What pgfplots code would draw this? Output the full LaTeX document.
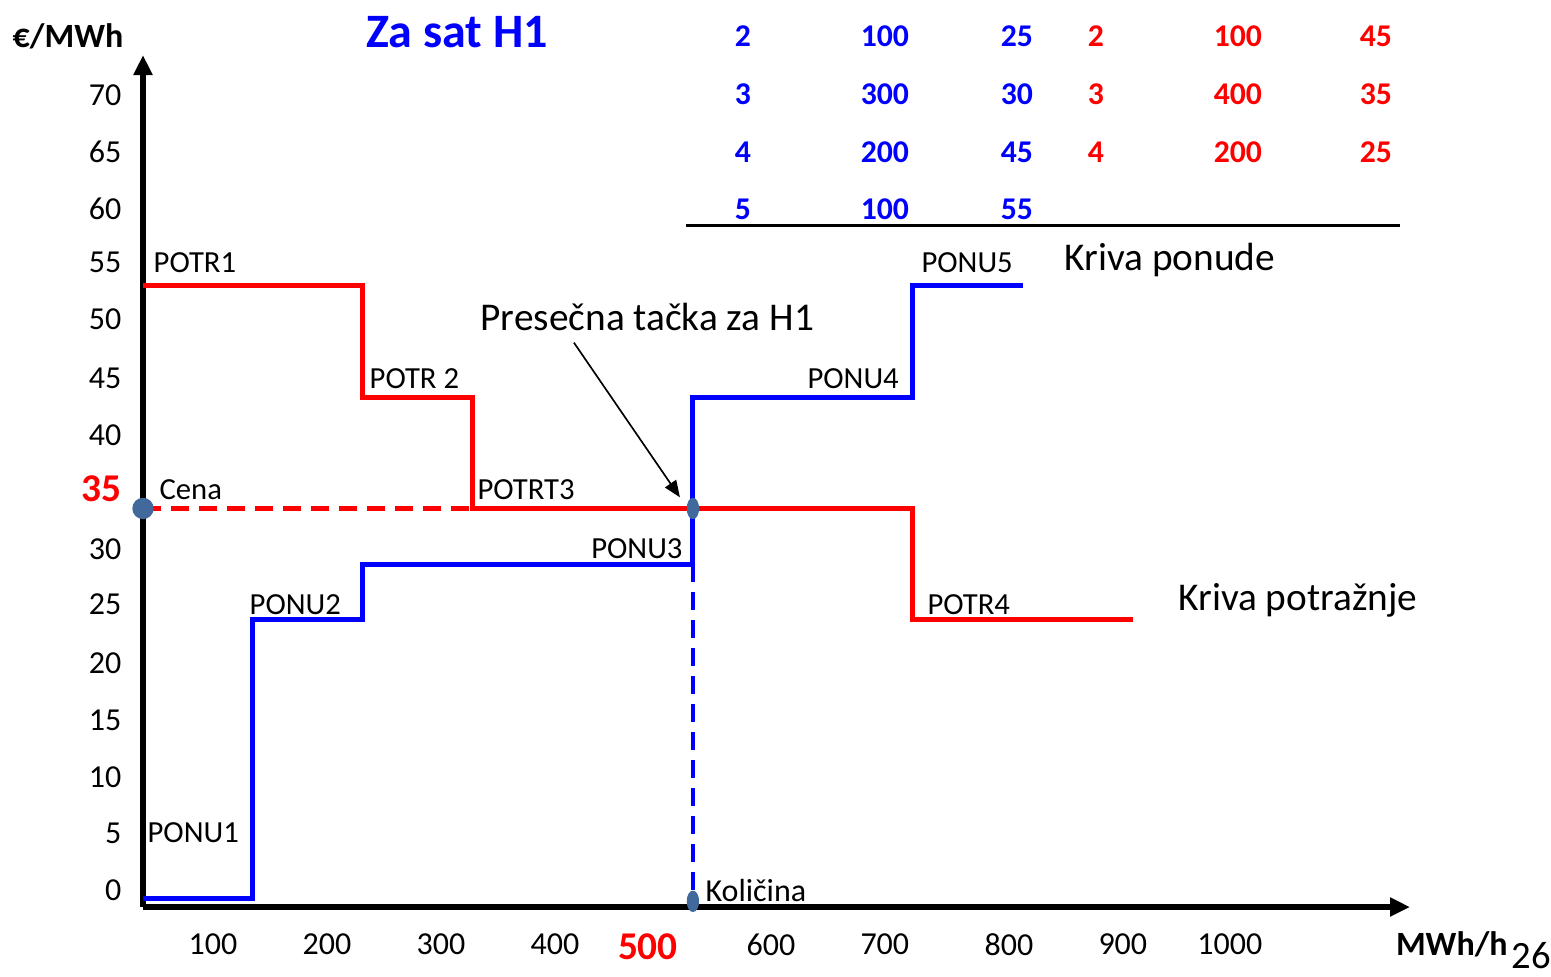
\documentclass[border=0pt]{standalone}
\usepackage{pgfplots}
\pgfplotsset{compat=1.18}
\usepackage{fontspec}
\setmainfont{Carlito}
\usetikzlibrary{arrows.meta}
\definecolor{dotblue}{RGB}{65,105,155}
\newcommand{\fs}[1]{\fontsize{#1}{#1}\selectfont}
\begin{document}
\begin{tikzpicture}[
  lbl/.style={font=\fs{9.2}, anchor=west, inner sep=0pt},
  big/.style={font=\fs{11.8}, anchor=west, inner sep=0pt},
  tb/.style={font=\bfseries\fs{9.5}, inner sep=0pt},
]
\useasboundingbox (-42.9pt,-20.7pt) rectangle (422.4pt,272.1pt);
\begin{axis}[
  at={(0,0)}, anchor=south west,
  scale only axis, width=380.1pt, height=255.6pt,
  xmin=0, xmax=1152, ymin=-0.81, ymax=75.74,
  axis x line=bottom, axis y line=left,
  axis line style={line width=1.6pt, -{Triangle[length=6pt,width=5.4pt]}},
  clip=false,
  major tick length=0pt,
  tick style={draw=none},
  xtick={63.6,167.3,270.9,374.5,459.1,570.9,674.5,787.3,890.9,988.2},
  xticklabels={100,200,300,400,{\raisebox{1.5pt}{\textcolor{red}{\bfseries\fs{11.8}500}}},600,700,800,900,1000},
  ytick={0.72,5.84,10.87,15.99,21.11,26.41,31.36,36.75,41.6,46.7,52.0,57.1,61.9,67.0,72.1},
  yticklabels={0,5,10,15,20,25,30,{\textcolor{red}{\bfseries\fs{11.8}35}},40,45,50,55,60,65,70},
  ticklabel style={font=\fs{9.6}, inner sep=0pt},
  xticklabel style={anchor=north, yshift=-7.8pt},
  yticklabel style={anchor=east, xshift=-6.3pt},
]
% demand curve (Kriva potraznje)
\addplot[const plot, red, line width=1.5pt] coordinates {(0,55) (200,45) (300,35) (700,25) (900,25)};
% supply curve (Kriva ponude)
\addplot[const plot, blue, line width=1.5pt] coordinates {(0,0) (100,25) (200,30) (500,45) (700,55) (800,55)};
% price and quantity guides
\addplot[red, line width=1.4pt, dash pattern=on 5.4pt off 3pt] coordinates {(0,35) (500,35)};
\addplot[blue, line width=1.2pt, dash pattern=on 5.4pt off 3pt] coordinates {(500,30) (500,0)};
% points
\addplot[only marks, mark=*, mark size=3pt, color=dotblue] coordinates {(0,35)};
\addplot[only marks, mark=*, mark size=3pt, color=dotblue, mark options={xscale=0.55}] coordinates {(500,35) (500,-0.3)};

% labels on steps
\node[lbl] at (axis cs:9.1,57.1) {POTR1};
\node[lbl] at (axis cs:205.5,46.7) {POTR 2};
\node[lbl] at (axis cs:303.6,36.7) {POTRT3};
\node[lbl] at (axis cs:407,31.4) {PONU3};
\node[lbl] at (axis cs:96.4,26.4) {PONU2};
\node[lbl] at (axis cs:3.6,5.84) {PONU1};
\node[lbl] at (axis cs:603.6,46.7) {PONU4};
\node[lbl] at (axis cs:707.3,57.1) {PONU5};
\node[lbl] at (axis cs:712.7,26.4) {POTR4};
\node[lbl] at (axis cs:14.5,36.7) {Cena};
\node[lbl, font=\fs{9.6}] at (axis cs:510.9,0.63) {Količina};
\node[big] at (axis cs:837.3,57.3) {Kriva ponude};
\node[big] at (axis cs:940.9,26.7) {Kriva potražnje};
\node[big] at (axis cs:306.4,52.2) {Presečna tačka za H1};
\draw[line width=0.5pt, -{Triangle[length=5pt,width=4pt]}] (axis cs:391.8,49.9) -- (axis cs:488.2,36.0);

% titles
\node[font=\bfseries\fs{14.4}, text=blue, inner sep=0pt] at (axis cs:285.5,77.8) {Za sat H1};
\node[font=\bfseries\fs{10.2}, inner sep=0pt] at (axis cs:-68.2,77.4) {€/MWh};
\node[font=\bfseries\fs{10.2}, inner sep=0pt] at (axis cs:1190,-4.2) {MWh/h};
\node[font=\fs{11.6}, inner sep=0pt] at (axis cs:1262,-5.2) {26};

% offer table
\node[tb, blue] at (axis cs:545.5,77.4) {2};
\node[tb, blue] at (axis cs:674.5,77.4) {100};
\node[tb, blue] at (axis cs:794.5,77.4) {25};
\node[tb, red] at (axis cs:866.4,77.4) {2};
\node[tb, red] at (axis cs:995.5,77.4) {100};
\node[tb, red] at (axis cs:1120.9,77.4) {45};
\node[tb, blue] at (axis cs:545.5,72.2) {3};
\node[tb, blue] at (axis cs:674.5,72.2) {300};
\node[tb, blue] at (axis cs:794.5,72.2) {30};
\node[tb, red] at (axis cs:866.4,72.2) {3};
\node[tb, red] at (axis cs:995.5,72.2) {400};
\node[tb, red] at (axis cs:1120.9,72.2) {35};
\node[tb, blue] at (axis cs:545.5,67.0) {4};
\node[tb, blue] at (axis cs:674.5,67.0) {200};
\node[tb, blue] at (axis cs:794.5,67.0) {45};
\node[tb, red] at (axis cs:866.4,67.0) {4};
\node[tb, red] at (axis cs:995.5,67.0) {200};
\node[tb, red] at (axis cs:1120.9,67.0) {25};
\node[tb, blue] at (axis cs:545.5,61.9) {5};
\node[tb, blue] at (axis cs:674.5,61.9) {100};
\node[tb, blue] at (axis cs:794.5,61.9) {55};
\draw[line width=0.9pt] (axis cs:493.6,60.4) -- (axis cs:1142.7,60.4);
\end{axis}
\end{tikzpicture}
\end{document}
